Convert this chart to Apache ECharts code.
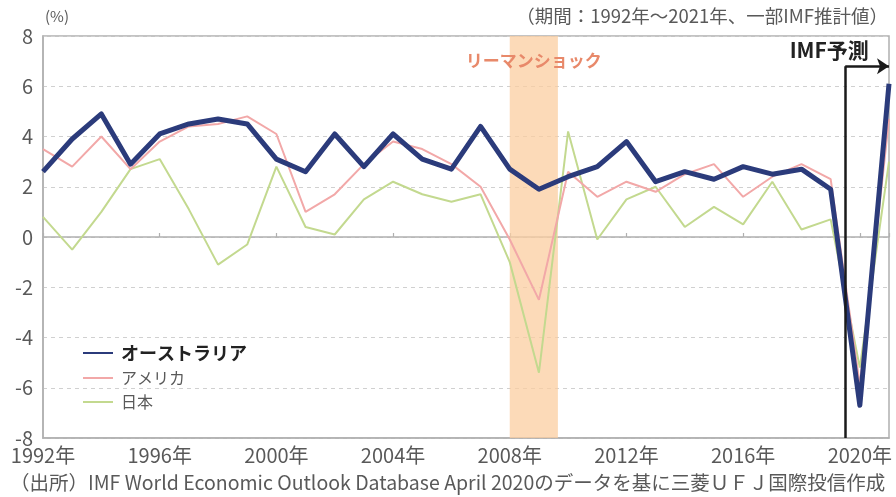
<!DOCTYPE html>
<html><head><meta charset="utf-8">
<script src="https://cdn.jsdelivr.net/npm/echarts@6/dist/echarts.min.js"></script>
<style>html,body{margin:0;padding:0;background:#fff}#c{width:896px;height:497px}</style>
</head><body><div id="c"></div>
<script>
const years = [1992,1993,1994,1995,1996,1997,1998,1999,2000,2001,2002,2003,2004,2005,2006,2007,2008,2009,2010,2011,2012,2013,2014,2015,2016,2017,2018,2019,2020,2021];
const australia = [2.6,3.9,4.9,2.9,4.1,4.5,4.7,4.5,3.1,2.6,4.1,2.8,4.1,3.1,2.7,4.4,2.7,1.9,2.4,2.8,3.8,2.2,2.6,2.3,2.8,2.5,2.7,1.9,-6.7,6.1];
const usa = [3.5,2.8,4.0,2.7,3.8,4.4,4.5,4.8,4.1,1.0,1.7,2.9,3.8,3.5,2.9,2.0,-0.1,-2.5,2.6,1.6,2.2,1.8,2.5,2.9,1.6,2.4,2.9,2.3,-5.9,4.7];
const japan = [0.8,-0.5,1.0,2.7,3.1,1.1,-1.1,-0.3,2.8,0.4,0.1,1.5,2.2,1.7,1.4,1.7,-1.0,-5.4,4.2,-0.1,1.5,2.0,0.4,1.2,0.5,2.2,0.3,0.7,-5.2,3.0];
const seriesNames = ['オーストラリア','アメリカ','日本'];
const lehmanRange = [2008, 2009.65];
const lehmanLabel = 'リーマンショック';
const forecastStart = 2019.5;
const forecastArrowLevel = 6.8;
const forecastLabel = 'IMF予測';
const forecastLabelAt = [2018.95, 7.45];
const yTicks = {min:-8, max:8, interval:2};
const xTicks = {min:1992, max:2021, interval:4};
const unitLabel = '(%)';
const periodNote = '（期間：1992年～2021年、一部IMF推計値）';
const sourceNote = '（出所）IMF World Economic Outlook Database April 2020のデータを基に三菱ＵＦＪ国際投信作成';

const FONT = '"Noto Sans CJK JP", "Noto Sans", sans-serif';
const pair = arr => years.map((y,i)=>[y,arr[i]]);

const chart = echarts.init(document.getElementById('c'), null, {renderer:'canvas'});
chart.setOption({
  animation:false,
  textStyle:{fontFamily:FONT},
  grid:{left:43,right:7,top:36,bottom:59,show:true,borderColor:'#b0b0b0',borderWidth:1.5,backgroundColor:'transparent'},
  xAxis:[{
    type:'value',min:xTicks.min,max:xTicks.max,interval:xTicks.interval,position:'bottom',
    axisLine:{onZero:false,show:true,lineStyle:{color:'#b0b0b0',width:1.5}},
    axisTick:{show:false},
    splitLine:{show:false},
    axisLabel:{color:'#595959',fontSize:20,margin:7,fontFamily:FONT,showMaxLabel:false,formatter:v=>v+'年'}
  },{
    type:'value',min:xTicks.min,max:xTicks.max,interval:xTicks.interval,position:'bottom',
    axisLine:{onZero:true,show:true,lineStyle:{color:'#b0b0b0',width:1.5}},
    axisTick:{show:true,inside:true,length:4,lineStyle:{color:'#b0b0b0',width:1.2}},
    axisLabel:{show:false},splitLine:{show:false}
  }],
  yAxis:{
    type:'value',min:yTicks.min,max:yTicks.max,interval:yTicks.interval,
    axisLine:{show:true,lineStyle:{color:'#b0b0b0',width:1.5}},
    axisTick:{show:false},
    axisLabel:{color:'#595959',fontSize:20,margin:10,fontFamily:FONT},
    splitLine:{show:true,lineStyle:{color:'#d0d0d0',type:[4,4],width:1}}
  },
  legend:{
    orient:'vertical',left:77,top:339,itemWidth:30,itemHeight:4,itemGap:8,
    itemStyle:{opacity:0},
    data:[
      {name:seriesNames[0],textStyle:{fontWeight:'bold',color:'#222',fontSize:18}},
      {name:seriesNames[1]},
      {name:seriesNames[2]}
    ],
    textStyle:{color:'#595959',fontSize:16,fontFamily:FONT,padding:[0,0,0,3]}
  },
  graphic:[
    {type:'text',left:45,top:9,style:{text:unitLabel,font:'15px '+FONT,fill:'#595959'}},
    {type:'text',right:8,top:7,style:{text:periodNote,font:'18.5px '+FONT,fill:'#595959'}},
    {type:'text',left:10,top:473,style:{text:sourceNote,font:'19.5px '+FONT,fill:'#595959'}}
  ],
  series:[
    {name:'_lehman',type:'line',data:[],z:1,silent:true,
      markArea:{silent:true,itemStyle:{color:'rgba(251,205,160,0.75)'},
        label:{show:true,position:'insideTop',distance:16,color:'#e8896a',fontSize:17,fontWeight:'bold',fontFamily:FONT,formatter:lehmanLabel},
        data:[[{coord:[lehmanRange[0],yTicks.max]},{coord:[lehmanRange[1],yTicks.min]}]]}
    },
    {name:seriesNames[2],type:'line',data:pair(japan),symbol:'none',z:2,lineStyle:{color:'#c3d98f',width:2},itemStyle:{color:'#c3d98f'}},
    {name:seriesNames[1],type:'line',data:pair(usa),symbol:'none',z:3,lineStyle:{color:'#f2a8a8',width:2},itemStyle:{color:'#f2a8a8'}},
    {name:seriesNames[0],type:'line',data:pair(australia),symbol:'none',z:4,lineStyle:{color:'#2b3b7b',width:5,join:'round'},itemStyle:{color:'#2b3b7b'},
      markLine:{silent:true,animation:false,label:{show:false},lineStyle:{color:'#1a1a1a',width:2.5,type:'solid'},symbolSize:12,
        data:[
          [{coord:[forecastStart,yTicks.min],symbol:'none'},{coord:[forecastStart,forecastArrowLevel],symbol:'none'}],
          [{coord:[forecastStart,forecastArrowLevel],symbol:'none'},{coord:[xTicks.max,forecastArrowLevel],symbol:'arrow'}]
        ]},
      markPoint:{silent:true,symbol:'circle',symbolSize:1,itemStyle:{opacity:0},
        label:{show:true,position:'inside',color:'#222',fontSize:21,fontWeight:'bold',fontFamily:FONT,formatter:forecastLabel,opacity:1},
        data:[{coord:forecastLabelAt,value:0}]}
    }
  ]
});
</script></body></html>
